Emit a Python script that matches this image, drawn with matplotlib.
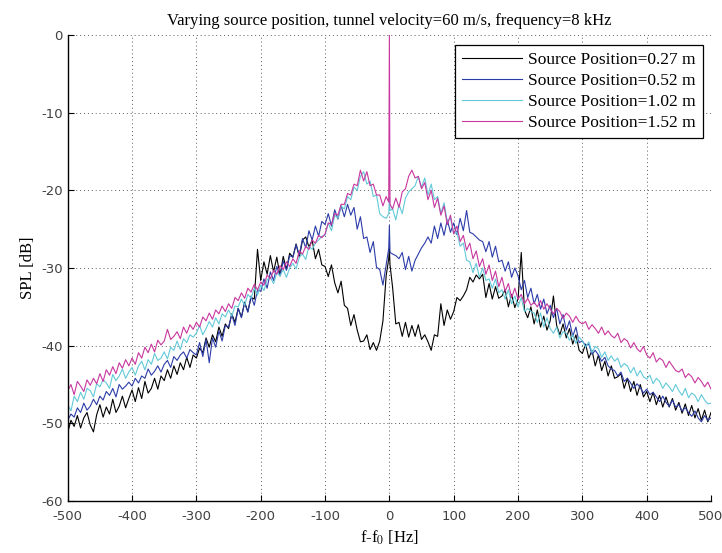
import numpy as np
import matplotlib
matplotlib.use('Agg')
import matplotlib.pyplot as plt

plt.rcParams['axes.unicode_minus'] = False
plt.rcParams['mathtext.fontset'] = 'stix'

# frequency offset grid [Hz], extra points around the carrier
freq = list(range(-500, 0, 5)) + [-1, 0, 1] + list(range(5, 505, 5))

# SPL [dB]
spl_027 = [
    -51.2, -49.6, -50.4, -49.0, -50.6, -49.3, -48.6, -50.2, -51.1, -48.9,
    -47.6, -49.2, -47.9, -48.8, -46.9, -48.6, -47.8, -46.5, -48.0, -46.8,
    -45.7, -47.2, -45.4, -46.8, -44.6, -46.1, -45.5, -44.2, -45.6, -43.9,
    -44.5, -43.1, -44.2, -42.6, -43.7, -42.2, -43.1, -41.5, -42.8, -41.2,
    -41.6, -40.3, -40.9, -39.0, -40.2, -38.6, -39.5, -37.6, -38.8, -37.2,
    -37.8, -35.9, -37.0, -35.2, -36.3, -34.4, -35.6, -33.8, -34.0, -27.6,
    -31.6, -29.2, -30.8, -28.4, -30.5, -28.6, -31.0, -28.5, -30.2, -28.1,
    -28.6, -26.9, -28.6, -26.4, -26.0, -27.3, -26.4, -28.8, -27.6, -29.6,
    -29.8, -31.1, -29.6, -31.9, -33.2, -31.7, -34.8, -35.2, -37.4, -36.0,
    -38.0, -39.5, -39.4, -38.6, -40.5, -39.6, -40.6, -39.4, -36.8, -31.0,
    -28.8, -27.4, -29.6, -32.5, -37.2, -37.0, -38.8, -37.0, -38.9, -37.4, -38.8, -37.3,
    -39.2, -38.6, -39.5, -40.6, -38.6, -38.8, -34.6, -37.4, -35.4, -36.6,
    -35.6, -33.8, -34.2, -33.6, -32.8, -31.2, -31.8, -30.9, -31.4, -30.8,
    -33.8, -32.0, -34.0, -32.4, -33.9, -33.6, -32.8, -35.0, -33.4, -35.1,
    -34.0, -28.0, -35.4, -36.4, -35.0, -37.2, -35.4, -37.6, -36.2, -38.0,
    -36.8, -33.6, -37.4, -38.6, -37.2, -39.0, -37.8, -39.8, -38.6, -40.6,
    -41.0, -39.8, -41.6, -40.6, -42.6, -41.2, -43.2, -42.0, -43.9, -42.6,
    -44.2, -44.0, -43.6, -45.5, -44.2, -45.9, -44.6, -46.4, -45.0, -46.6,
    -45.9, -47.2, -46.0, -47.6, -46.4, -47.9, -46.6, -47.9, -46.8, -48.3,
    -47.3, -48.7, -47.5, -49.0, -47.7, -49.3, -48.1, -49.6, -48.3, -49.8,
    -48.6]

spl_052 = [
    -49.6, -48.8, -49.2, -48.0, -48.6, -47.4, -48.3, -47.8, -46.9, -47.6,
    -46.5, -47.0, -45.9, -46.4, -45.5, -46.6, -45.0, -45.6, -45.2, -44.7,
    -45.2, -44.2, -44.8, -43.9, -44.2, -43.0, -43.8, -43.3, -42.6, -43.4,
    -42.4, -41.9, -42.8, -41.4, -41.9, -41.2, -40.8, -41.6, -40.5, -40.9,
    -41.2, -39.6, -41.4, -39.2, -42.2, -39.0, -40.2, -38.1, -39.4, -37.4,
    -37.6, -36.0, -37.4, -35.2, -36.4, -34.5, -35.7, -33.6, -34.8, -32.8,
    -33.0, -31.4, -32.6, -30.5, -31.6, -29.8, -31.0, -29.1, -30.3, -28.4,
    -28.6, -27.0, -28.3, -26.2, -27.4, -25.2, -26.4, -24.6, -25.9, -24.0,
    -24.4, -23.0, -24.6, -22.5, -23.7, -22.0, -23.4, -21.8, -23.2, -22.2,
    -25.0, -23.4, -26.2, -26.0, -28.0, -26.6, -29.9, -30.2, -32.2, -29.6,
    -27.5, -24.5, -28.0, -28.2, -28.4, -28.8, -28.0, -30.2, -28.5, -30.4, -29.0, -28.2,
    -27.4, -26.8, -26.0, -26.8, -24.6, -26.2, -24.2, -25.8, -23.8, -25.4,
    -24.2, -25.7, -23.6, -25.2, -22.6, -25.4, -25.6, -26.0, -26.4, -26.6,
    -27.9, -26.6, -28.6, -27.2, -29.2, -29.0, -30.4, -29.2, -31.2, -30.0,
    -31.0, -32.8, -31.6, -33.8, -32.6, -34.6, -33.4, -35.3, -34.0, -35.9,
    -34.8, -36.4, -35.2, -37.2, -36.0, -38.0, -36.8, -38.8, -37.6, -39.6,
    -39.4, -40.0, -39.8, -41.1, -40.6, -41.2, -42.0, -41.5, -42.6, -43.0,
    -43.2, -43.9, -43.4, -44.6, -44.2, -44.8, -45.5, -44.9, -45.4, -46.1,
    -45.6, -46.3, -46.0, -46.6, -47.2, -46.5, -47.3, -47.8, -47.0, -47.9,
    -47.6, -48.4, -48.0, -48.6, -49.1, -48.4, -49.3, -49.8, -49.0, -49.6,
    -49.3]

spl_102 = [
    -47.6, -48.4, -46.5, -47.2, -46.0, -46.9, -45.5, -45.8, -46.6, -44.9,
    -45.3, -44.4, -44.8, -45.5, -43.7, -44.5, -43.9, -43.0, -44.2, -43.4,
    -42.8, -43.8, -42.6, -42.0, -43.1, -41.8, -42.4, -41.0, -41.9, -41.6,
    -40.8, -41.7, -40.2, -40.6, -39.4, -40.5, -39.1, -39.6, -38.6, -38.9,
    -38.4, -37.4, -38.6, -37.8, -36.9, -37.6, -36.4, -37.2, -35.9, -36.3,
    -35.4, -36.2, -34.9, -35.0, -34.0, -34.8, -33.4, -33.9, -32.6, -33.5,
    -32.2, -32.9, -31.5, -31.2, -32.0, -30.6, -31.0, -30.2, -31.2, -30.0,
    -29.4, -30.1, -28.6, -28.2, -28.9, -27.2, -27.6, -26.8, -26.4, -25.9,
    -25.8, -24.2, -25.2, -23.2, -23.6, -22.0, -22.4, -20.8, -21.2, -19.6,
    -20.0, -18.2, -17.6, -19.2, -18.8, -20.8, -20.6, -23.0, -23.4, -23.6,
    -23.0, -21.0, -22.6, -22.4, -23.8, -21.8, -23.0, -21.0, -20.2, -19.8, -19.4, -18.2,
    -19.6, -18.4, -20.6, -19.2, -21.2, -20.8, -23.0, -21.6, -24.0, -23.6,
    -25.6, -25.4, -27.2, -26.8, -29.0, -29.2, -30.6, -29.4, -31.2, -30.0,
    -31.6, -31.4, -32.6, -31.4, -33.2, -32.8, -34.0, -32.8, -34.6, -33.6,
    -35.0, -33.8, -35.6, -35.2, -35.6, -35.8, -37.0, -35.8, -37.6, -36.4,
    -37.8, -38.4, -37.6, -39.0, -38.2, -38.4, -39.3, -38.6, -39.7, -38.9,
    -39.4, -40.2, -39.5, -40.9, -40.1, -40.4, -41.5, -40.8, -41.9, -41.3,
    -42.0, -41.6, -42.8, -42.3, -42.6, -43.5, -42.8, -43.9, -43.2, -44.0,
    -44.3, -43.8, -44.9, -44.2, -44.6, -45.5, -44.8, -45.3, -45.9, -45.0,
    -45.8, -46.4, -45.5, -46.7, -46.1, -46.4, -47.2, -46.3, -47.0, -47.5,
    -47.4]

spl_152 = [
    -45.8, -45.0, -46.3, -44.6, -45.2, -45.9, -44.4, -45.1, -44.2, -44.9,
    -43.6, -44.6, -43.1, -43.8, -42.7, -43.6, -42.2, -42.9, -41.8, -42.6,
    -41.6, -42.4, -40.9, -41.6, -40.2, -40.9, -39.8, -40.8, -39.3, -39.9,
    -39.4, -37.9, -39.2, -38.8, -38.2, -39.1, -37.6, -38.4, -37.3, -37.9,
    -37.0, -37.6, -36.3, -36.8, -35.8, -36.6, -35.4, -35.9, -34.9, -35.6,
    -34.6, -35.2, -33.8, -34.2, -33.2, -33.9, -32.6, -33.1, -32.1, -32.8,
    -31.8, -32.2, -30.9, -31.4, -30.3, -30.8, -29.7, -30.2, -29.2, -29.8,
    -28.8, -29.4, -27.8, -28.2, -27.2, -27.6, -26.4, -26.8, -25.8, -26.1,
    -25.6, -24.2, -24.4, -23.0, -23.2, -21.8, -21.8, -20.4, -20.6, -19.2,
    -19.4, -17.4, -18.8, -17.6, -19.4, -19.2, -20.6, -20.6, -22.0, -20.8,
    -21.5, 0.0, -21.8, -22.4, -21.0, -22.2, -20.2, -19.8, -18.2, -17.4, -18.4, -18.2,
    -19.8, -19.0, -21.2, -20.0, -22.2, -21.0, -23.2, -22.0, -24.4, -23.2,
    -25.6, -24.6, -26.6, -25.8, -27.7, -26.8, -28.8, -27.8, -29.8, -28.8,
    -30.8, -29.6, -31.6, -30.4, -32.4, -31.2, -33.0, -32.0, -33.8, -32.6,
    -34.0, -33.4, -34.6, -33.9, -34.8, -34.4, -35.0, -34.2, -35.3, -34.6,
    -35.3, -35.9, -35.2, -35.6, -36.5, -35.8, -36.2, -37.0, -36.2, -36.9,
    -37.2, -36.9, -37.9, -37.3, -37.8, -38.4, -37.6, -38.6, -38.1, -38.7,
    -39.0, -38.4, -39.6, -39.1, -39.4, -40.3, -39.6, -40.4, -40.8, -40.1,
    -41.2, -41.6, -40.9, -42.1, -41.6, -41.9, -42.8, -42.0, -42.6, -43.2,
    -43.4, -43.0, -44.1, -43.6, -44.0, -44.8, -44.1, -44.6, -45.3, -44.7,
    -45.6]

labels = ['Source Position=0.27 m', 'Source Position=0.52 m',
          'Source Position=1.02 m', 'Source Position=1.52 m']
colors = ['black', '#2b3ca8', '#62c9d8', '#c8379f']

fig = plt.figure(figsize=(7.22, 5.53), dpi=100)
ax = fig.add_axes([0.0938, 0.094, 0.891, 0.8427])

for y, c, lab in zip([spl_027, spl_052, spl_102, spl_152], colors, labels):
    ax.plot(freq, y, color=c, lw=0.8, label=lab)

ax.set_xlim(-500, 500)
ax.set_ylim(-60, 0)
ax.set_xticks(np.arange(-500, 501, 100))
ax.set_yticks(np.arange(-60, 1, 10))
ax.grid(True, color='0.35', linestyle=(0, (1, 3)), linewidth=0.7)
ax.spines['top'].set_visible(False)
ax.spines['right'].set_visible(False)
ax.spines['left'].set_linewidth(1.0)
ax.spines['bottom'].set_linewidth(1.0)
ax.tick_params(direction='in', labelsize=9.5, length=4)
ax.tick_params(axis='x', pad=6.5)
for t in ax.get_xticklabels() + ax.get_yticklabels():
    t.set_color('0.25')

ax.set_title('Varying source position, tunnel velocity=60 m/s, frequency=8 kHz',
             family='Liberation Serif', fontsize=12, pad=7)
ax.set_xlabel('f-f$_0$ [Hz]', family='Liberation Serif', fontsize=12)
ax.set_ylabel('SPL [dB]', family='Liberation Serif', fontsize=12)

leg = ax.legend(loc='upper right', bbox_to_anchor=(0.9876, 0.978), borderaxespad=0,
                prop={'family': 'Liberation Serif', 'size': 12.5},
                fancybox=False, framealpha=1, edgecolor='black',
                handlelength=3.45, handletextpad=0.4, labelspacing=0.27,
                borderpad=0.4)
leg.get_frame().set_linewidth(0.9)

fig.savefig('out.png', dpi=100)
